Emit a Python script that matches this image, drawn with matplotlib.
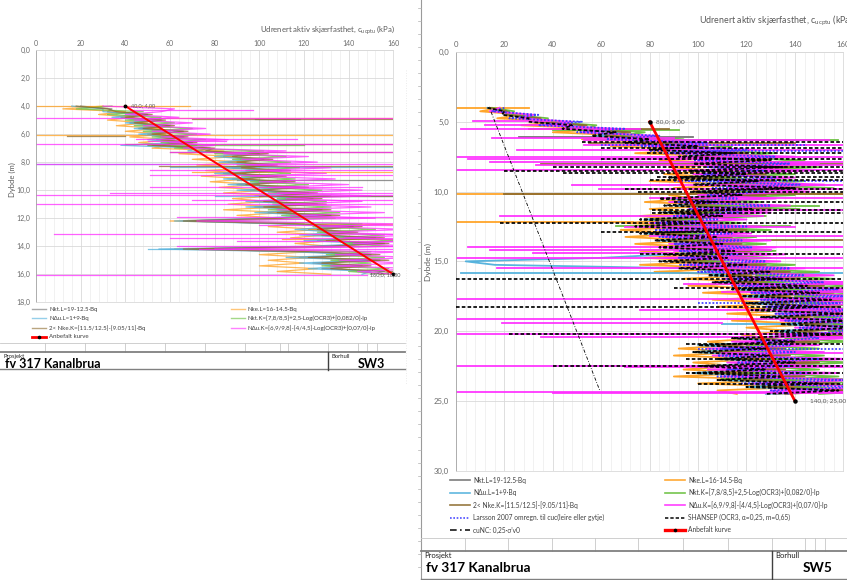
import numpy as np
import matplotlib
matplotlib.use("Agg")
import matplotlib.pyplot as plt
from matplotlib.ticker import MultipleLocator, FuncFormatter

plt.rcParams['font.family'] = ['Lato', 'DejaVu Sans']
plt.rcParams['mathtext.fontset'] = 'custom'
plt.rcParams['mathtext.rm'] = 'Lato'
plt.rcParams['mathtext.it'] = 'Lato'

W, H = 847, 580

# ---------------- SW3: cu from CPTU, 0.2 m sampling ----------------
sw3_depth = np.round(np.arange(4.0, 16.001, 0.2), 2)
sw3_nkt_l = [20, 34, 32, 50, 38, 56, 42, 60, 46, 66,
             50, 66, 54, 70, 50, 78, 72, 100, 84, 102,
             86, 104, 88, 110, 84, 108, 88, 112, 90, 118,
             96, 122, 104, 124, 98, 126, 98, 128, 104, 132,
             106, 66, 112, 142, 122, 140, 124, 152, 126, 156,
             128, 70, 120, 150, 118, 154, 124, 146, 128, 156, 150]
sw3_nke_l = [30, 12, 40, 28, 44, 32, 50, 36, 56, 40,
             58, 42, 62, 46, 60, 52, 84, 64, 90, 70,
             94, 72, 98, 76, 94, 74, 96, 78, 100, 82,
             104, 84, 110, 88, 104, 86, 110, 84, 112, 90,
             110, 60, 120, 104, 128, 108, 130, 114, 134, 116,
             132, 62, 122, 100, 124, 104, 120, 100, 126, 108, 132]
sw3_ndu_l = [16, 30, 30, 46, 34, 50, 40, 56, 44, 60,
             46, 60, 50, 64, 38, 72, 68, 94, 80, 96,
             82, 100, 84, 104, 80, 102, 84, 106, 86, 112,
             90, 116, 98, 118, 94, 120, 94, 122, 98, 126,
             100, 62, 108, 136, 116, 134, 118, 146, 120, 150,
             122, 55, 116, 144, 112, 148, 118, 140, 122, 150, 146]
sw3_nkt_k = [34, 18, 48, 32, 56, 40, 62, 44, 70, 48,
             72, 52, 76, 56, 72, 62, 102, 80, 112, 88,
             114, 90, 118, 94, 114, 92, 116, 96, 122, 100,
             128, 104, 132, 108, 130, 106, 132, 104, 136, 110,
             134, 72, 146, 124, 152, 126, 156, 134, 160, 138,
             158, 74, 150, 130, 156, 132, 150, 128, 158, 140, 158]
sw3_nke_k = [18, 32, 36, 52, 40, 58, 44, 62, 48, 68,
             52, 68, 56, 72, 52, 80, 76, 104, 88, 106,
             90, 108, 92, 114, 88, 112, 92, 116, 94, 122,
             100, 126, 108, 128, 102, 130, 102, 132, 108, 136,
             110, 66, 116, 146, 126, 144, 128, 156, 130, 158,
             132, 66, 126, 154, 122, 158, 128, 150, 132, 160, 154]
sw3_ndu_k = [30, 62, 56, 40, 64, 44, 70, 48, 76, 52,
             78, 56, 86, 60, 80, 66, 112, 84, 122, 92,
             126, 94, 132, 98, 130, 96, 134, 100, 140, 104,
             146, 108, 150, 112, 146, 110, 150, 108, 156, 114,
             152, 72, 162, 128, 166, 130, 170, 138, 172, 142,
             170, 80, 164, 134, 170, 136, 166, 132, 172, 144, 160]
# thin layers: (depth, cu from, cu to, series)
sw3_spikes = [
    (4.03, 0, 69, 'nke_l'), (4.25, 42, 97, 'ndu_k'), (4.85, 55, 170, 'nke_l'),
    (4.88, 0, 170, 'ndu_k'), (4.92, 70, 170, 'nke_k'), (4.90, 98, 118, 'nkt_l'),
    (6.07, 0, 170, 'nke_l'), (6.10, 14, 40, 'nke_k'), (6.35, 45, 117, 'ndu_k'),
    (6.50, 50, 85, 'ndu_k'), (6.72, 0, 170, 'ndu_k'), (6.75, 50, 120, 'nkt_k'),
    (6.70, 40, 170, 'nke_k'), (7.26, 60, 170, 'ndu_k'), (7.30, 60, 170, 'nke_k'),
    (8.10, 0, 170, 'ndu_k'), (8.12, 0, 60, 'ndu_l'), (8.30, 55, 170, 'nke_k'),
    (8.35, 60, 170, 'ndu_l'), (8.55, 51, 170, 'ndu_k'), (8.70, 70, 170, 'nke_l'),
    (8.90, 51, 170, 'ndu_k'), (9.30, 90, 170, 'nkt_l'), (9.76, 51, 146, 'ndu_k'),
    (10.19, 33, 160, 'ndu_k'), (10.38, 0, 170, 'ndu_k'), (10.42, 80, 170, 'ndu_l'),
    (10.45, 100, 170, 'nke_k'), (10.70, 70, 170, 'ndu_k'), (10.98, 0, 170, 'ndu_k'),
    (11.90, 63, 170, 'ndu_k'), (12.40, 120, 170, 'nke_l'), (12.45, 100, 170, 'ndu_k'),
    (13.15, 8, 170, 'ndu_k'), (13.40, 60, 170, 'ndu_k'), (13.50, 110, 170, 'nke_l'),
    (13.65, 90, 170, 'ndu_k'), (13.95, 63, 170, 'ndu_k'), (14.17, 73, 170, 'ndu_k'),
    (14.17, 50, 73, 'ndu_l'), (16.07, 0, 148, 'ndu_k'),
]
sw3_rec_depth = [4.0, 16.0]
sw3_rec = [40.0, 160.0]

# ---------------- SW5: cu from CPTU, 0.25 m sampling ----------------
sw5_depth = np.round(np.arange(4.0, 24.501, 0.25), 2)
sw5_nkt_l = [14, 22, 20, 34, 32, 52, 48, 70, 60, 84,
             74, 102, 84, 118, 96, 128, 102, 134, 100, 124,
             92, 128, 104, 138, 102, 124, 90, 112, 92, 126,
             88, 114, 80, 104, 78, 116, 80, 110, 86, 114,
             88, 118, 90, 116, 88, 124, 96, 134, 108, 138,
             110, 148, 118, 152, 122, 156, 124, 154, 128, 162,
             130, 166, 138, 170, 136, 160, 118, 146, 104, 132,
             102, 134, 112, 146, 106, 132, 102, 140, 114, 154,
             124, 160, 132]
sw5_nke_l = [18, 10, 28, 17, 44, 27, 60, 40, 72, 52,
             90, 64, 102, 74, 112, 84, 118, 88, 108, 86,
             112, 80, 120, 90, 108, 88, 98, 78, 110, 80,
             100, 76, 92, 70, 102, 68, 96, 70, 100, 74,
             104, 76, 100, 78, 108, 76, 118, 82, 122, 94,
             130, 96, 134, 102, 138, 106, 136, 108, 142, 112,
             146, 114, 150, 120, 140, 118, 128, 104, 116, 92,
             118, 90, 128, 98, 116, 94, 122, 90, 136, 100,
             142, 108, 116]
sw5_ndu_l = [13, 20, 21, 32, 33, 50, 46, 68, 58, 80,
             72, 98, 82, 112, 94, 122, 100, 130, 98, 118,
             90, 124, 100, 134, 100, 120, 88, 108, 90, 120,
             86, 110, 78, 102, 76, 112, 78, 106, 84, 108,
             86, 112, 88, 60, 4, 16, 96, 112, 106, 132,
             108, 142, 114, 146, 118, 150, 120, 148, 124, 156,
             126, 160, 134, 164, 132, 154, 114, 140, 100, 126,
             98, 128, 108, 140, 102, 126, 98, 134, 110, 148,
             120, 154, 128]
sw5_nkt_k = [15, 24, 23, 38, 37, 58, 54, 78, 68, 94,
             84, 114, 96, 132, 108, 144, 116, 150, 114, 140,
             104, 144, 118, 156, 116, 140, 102, 126, 104, 142,
             100, 128, 92, 118, 90, 130, 92, 124, 98, 128,
             100, 132, 102, 130, 100, 140, 110, 150, 124, 156,
             126, 166, 134, 170, 140, 174, 142, 172, 146, 178,
             148, 182, 156, 186, 154, 178, 136, 164, 120, 150,
             118, 152, 128, 164, 122, 150, 118, 158, 130, 172,
             140, 178, 150]
sw5_nke_k = [14, 21, 21, 35, 34, 54, 50, 72, 62, 86,
             76, 104, 86, 120, 98, 130, 104, 138, 102, 128,
             94, 132, 106, 142, 104, 128, 92, 116, 94, 130,
             90, 118, 82, 108, 80, 120, 82, 114, 88, 118,
             90, 122, 92, 120, 90, 128, 98, 138, 112, 142,
             114, 152, 122, 156, 126, 160, 128, 158, 132, 166,
             134, 170, 142, 174, 140, 164, 122, 150, 108, 136,
             106, 138, 116, 150, 110, 136, 106, 144, 118, 158,
             128, 164, 136]
sw5_ndu_k = [18, 14, 32, 26, 48, 36, 66, 52, 82, 64,
             104, 80, 124, 90, 140, 100, 150, 104, 146, 98,
             140, 108, 152, 112, 146, 100, 132, 88, 138, 96,
             130, 90, 120, 80, 126, 84, 122, 86, 130, 88,
             132, 90, 136, 86, 134, 94, 144, 104, 156, 110,
             164, 118, 168, 122, 174, 126, 176, 128, 178, 132,
             182, 134, 186, 140, 180, 132, 166, 114, 150, 104,
             152, 106, 164, 112, 150, 104, 158, 110, 168, 122,
             178, 130, 184]
sw5_larsson = [20, 15, 34, 22, 52, 34, 70, 50, 84, 62,
               104, 76, 120, 86, 132, 98, 138, 104, 128, 102,
               132, 96, 142, 106, 128, 104, 116, 92, 130, 96,
               118, 90, 108, 82, 120, 82, 114, 84, 118, 90,
               122, 92, 118, 92, 128, 92, 138, 100, 144, 112,
               152, 114, 158, 122, 160, 126, 158, 128, 166, 132,
               170, 136, 176, 142, 166, 140, 150, 124, 138, 110,
               140, 108, 150, 116, 138, 112, 146, 108, 160, 118,
               166, 130, 138]
sw5_shansep = [13, 20, 19, 30, 30, 48, 44, 66, 56, 80,
               70, 100, 80, 115, 92, 130, 98, 135, 96, 120,
               88, 125, 98, 140, 98, 118, 84, 108, 86, 122,
               84, 110, 76, 100, 74, 112, 76, 108, 82, 110,
               84, 115, 86, 112, 84, 120, 92, 130, 104, 135,
               106, 145, 114, 150, 118, 155, 120, 150, 122, 160,
               126, 162, 134, 168, 130, 155, 114, 140, 100, 128,
               98, 130, 108, 140, 100, 128, 98, 135, 108, 150,
               120, 158, 128]
sw5_spikes = [
    (4.02, 0, 30, 'nke_l'), (4.95, 7, 39, 'ndu_k'), (5.23, 12, 48, 'ndu_k'),
    (5.54, 2, 76, 'ndu_k'), (5.54, 30, 88, 'nke_k'), (5.60, 40, 92, 'nkt_k'),
    (6.07, 26, 98, 'nkt_l'), (6.19, 15, 90, 'ndu_k'), (6.30, 53, 154, 'ndu_k'),
    (6.30, 60, 158, 'nkt_k'), (6.43, 52, 170, 'shansep'), (6.55, 55, 140, 'nke_k'),
    (6.67, 53, 170, 'ndu_k'), (6.67, 60, 145, 'larsson'), (6.85, 60, 170, 'shansep'),
    (7.03, 25, 170, 'ndu_k'), (7.12, 80, 170, 'larsson'), (7.25, 79, 170, 'shansep'),
    (7.50, 0, 170, 'ndu_k'), (7.70, 5, 110, 'ndu_k'), (7.70, 60, 170, 'shansep'),
    (7.86, 14, 170, 'ndu_k'), (8.05, 35, 170, 'nke_k'), (8.10, 33, 170, 'ndu_k'),
    (8.22, 40, 170, 'shansep'), (8.46, 0, 170, 'ndu_k'), (8.50, 20, 170, 'shansep'),
    (8.70, 44, 170, 'shansep'), (8.95, 83, 170, 'shansep'), (9.20, 80, 170, 'shansep'),
    (9.25, 90, 170, 'larsson'), (9.53, 48, 170, 'ndu_k'), (9.80, 59, 170, 'ndu_k'),
    (9.85, 70, 170, 'shansep'), (10.00, 75, 170, 'shansep'), (10.17, 0, 170, 'nke_l'),
    (10.20, 20, 170, 'nke_k'), (10.45, 80, 170, 'ndu_k'), (10.75, 90, 170, 'shansep'),
    (11.00, 100, 150, 'nkt_k'), (11.30, 81, 170, 'shansep'), (11.35, 100, 170, 'ndu_k'),
    (11.55, 81, 170, 'shansep'), (11.76, 18, 127, 'ndu_k'), (12.20, 0, 73, 'nke_l'),
    (12.24, 18, 170, 'shansep'), (12.50, 66, 138, 'nkt_k'), (12.55, 70, 140, 'ndu_k'),
    (12.88, 60, 170, 'shansep'), (13.20, 80, 170, 'ndu_k'), (13.50, 100, 170, 'nke_k'),
    (14.00, 5, 170, 'ndu_k'), (14.20, 14, 130, 'ndu_k'), (14.43, 32, 90, 'ndu_k'),
    (14.45, 76, 170, 'shansep'), (14.79, 0, 170, 'ndu_k'), (15.45, 17, 170, 'ndu_k'),
    (15.82, 2, 170, 'ndu_l'), (16.30, 0, 170, 'shansep'), (16.60, 94, 170, 'ndu_k'),
    (16.90, 90, 170, 'shansep'), (17.20, 110, 170, 'ndu_k'), (17.73, 0, 170, 'ndu_k'),
    (18.00, 100, 170, 'larsson'), (18.30, 0, 170, 'shansep'), (18.50, 76, 170, 'ndu_k'),
    (19.15, 0, 170, 'ndu_k'), (19.45, 19, 110, 'ndu_k'), (19.50, 110, 170, 'ndu_l'),
    (20.17, 0, 170, 'ndu_k'), (20.20, 22, 170, 'shansep'), (20.45, 35, 170, 'ndu_k'),
    (20.90, 95, 170, 'shansep'), (21.30, 100, 170, 'larsson'), (21.60, 110, 170, 'ndu_k'),
    (22.00, 95, 170, 'shansep'), (22.48, 0, 170, 'ndu_k'), (22.52, 40, 170, 'shansep'),
    (22.55, 70, 170, 'ndu_k'), (23.00, 95, 170, 'shansep'), (23.40, 110, 170, 'nkt_k'),
    (23.80, 100, 170, 'shansep'), (24.35, 0, 170, 'ndu_k'), (24.40, 40, 170, 'ndu_k'),
]
sw5_cunc_depth = [4.3, 24.3]
sw5_cunc = [14.5, 59.5]
sw5_rec_depth = [5.0, 25.0]
sw5_rec = [80.0, 140.0]

# colour, linestyle, legend text
STYLE = {
    'nkt_l': ('#6e6e6e', '-', 'Nkt.L=19-12.5·Bq'),
    'nke_l': ('#ffa01e', '-', 'Nke.L=16-14.5·Bq'),
    'ndu_l': ('#4fb0dc', '-', 'NΔu.L=1+9·Bq'),
    'nkt_k': ('#66bf3a', '-', 'Nkt.K=[7,8/8,5]+2,5·Log(OCR3)+[0,082/0]·Ip'),
    'nke_k': ('#8c6a2c', '-', '2< Nke.K=[11.5/12.5]-[9.05/11]·Bq'),
    'ndu_k': ('#ff2cff', '-', 'NΔu.K=[6,9/9,8]-[4/4,5]·Log(OCR3)+[0,07/0]·Ip'),
    'larsson': ('#3a3aff', (0, (1, 1)), 'Larsson 2007 omregn. til cuc(leire eller gytje)'),
    'shansep': ('#000000', (0, (2, 1.2)), "SHANSEP (OCR3, α=0,25, m=0,65)"),
    'cunc': ('#000000', (0, (4, 2, 1, 2)), "cuNC: 0,25·σ'v0"),
}
ORDER = ['nkt_l', 'nke_l', 'ndu_l', 'nkt_k', 'nke_k', 'ndu_k', 'larsson', 'shansep']

sw3_series = {'nkt_l': sw3_nkt_l, 'nke_l': sw3_nke_l, 'ndu_l': sw3_ndu_l,
              'nkt_k': sw3_nkt_k, 'nke_k': sw3_nke_k, 'ndu_k': sw3_ndu_k}
sw5_series = {'nkt_l': sw5_nkt_l, 'nke_l': sw5_nke_l, 'ndu_l': sw5_ndu_l,
              'nkt_k': sw5_nkt_k, 'nke_k': sw5_nke_k, 'ndu_k': sw5_ndu_k,
              'larsson': sw5_larsson, 'shansep': sw5_shansep}


def fmt_comma(v, pos=None):
    return f"{v:.1f}".replace('.', ',')


def px_axes(fig, x0, y0, x1, y1):
    return fig.add_axes([x0 / W, 1 - y1 / H, (x1 - x0) / W, (y1 - y0) / H])


def style_axis(ax, ymax, ystep, fs, xpad, ypad):
    ax.set_xlim(0, 160)
    ax.set_ylim(ymax, 0)
    ax.xaxis.tick_top()
    ax.xaxis.set_major_locator(MultipleLocator(20))
    ax.xaxis.set_minor_locator(MultipleLocator(4))
    ax.yaxis.set_major_locator(MultipleLocator(ystep))
    ax.yaxis.set_major_formatter(FuncFormatter(fmt_comma))
    ax.tick_params(which='both', length=0, labelsize=fs, colors='#6a6a6a')
    ax.tick_params(axis='x', pad=xpad)
    ax.tick_params(axis='y', pad=ypad)
    ax.grid(which='major', color='#d9d9d9', lw=0.6)
    ax.grid(which='minor', axis='x', color='#ececec', lw=0.5)
    ax.set_axisbelow(True)
    for s in ax.spines.values():
        s.set_color('#d9d9d9')
        s.set_linewidth(0.6)
    ax.spines['left'].set_color('#a6a6a6')


def draw_profile(ax, depth, series, spikes, lw, alpha):
    for i, key in enumerate(ORDER):
        if key not in series:
            continue
        color, ls, _ = STYLE[key]
        z = 2 + i * 0.1
        ax.plot(series[key], depth, color=color, ls=ls, lw=lw, alpha=alpha, zorder=z)
        for d, x0, x1, k in spikes:
            if k == key:
                ax.plot([x0, x1], [d, d], color=color, ls=ls, lw=lw, alpha=alpha, zorder=z)


def draw_rec(ax, vals, depth, lw, ms, fs, offsets):
    ax.plot(vals, depth, color='#ff0000', lw=lw, zorder=10)
    ax.plot(vals, depth, ls='none', marker='o', ms=ms, color='black', zorder=11, clip_on=False)
    for v, d, (dx, ha) in zip(vals, depth, offsets):
        ax.annotate(f"{v:.1f}; {d:.2f}".replace('.', ','), (v, d), xytext=(dx, 0),
                    textcoords='offset points', ha=ha, va='center', fontsize=fs,
                    color='#595959', annotation_clip=False, zorder=12)


def draw_legend(ax0, rows, cols, handle_len, fs, alpha, lw):
    # rows: y positions; cols: (x of handle, series keys top to bottom)
    for x, keys in cols:
        for y, key in zip(rows, keys):
            if key == 'rec':
                ax0.plot([x, x + handle_len], [y, y], color='#ff0000', lw=lw * 2)
                ax0.plot([x + handle_len / 2], [y], marker='o', ms=1.6, color='black')
                label = 'Anbefalt kurve'
            else:
                color, ls, label = STYLE[key]
                ax0.plot([x, x + handle_len], [y, y], color=color, ls=ls, lw=lw, alpha=alpha)
            ax0.text(x + handle_len + 3, y, label, fontsize=fs, color='#404040', va='center')


def draw_title_block(ax0, x0, x1, y_top, y_mid, y_bot, ticks, x_div, fs_small, fs_big,
                     name, hole, x_hole):
    ax0.plot([x0, x1], [y_top, y_top], color='#c8c8c8', lw=0.6)
    for x in ticks:
        ax0.plot([x, x], [y_top, y_mid], color='#c8c8c8', lw=0.6)
    ax0.plot([x0, x1], [y_mid, y_mid], color='#808080', lw=1.3)
    ax0.plot([x0, x1], [y_bot, y_bot], color='#808080', lw=1.0)
    ax0.plot([x_div, x_div], [y_mid, y_bot + 1], color='#404040', lw=1.0)
    ax0.text(x0 + 3, y_mid + 4.5, 'Prosjekt', fontsize=fs_small, va='center', color='#202020')
    ax0.text(x_div + 3, y_mid + 4.5, 'Borhull', fontsize=fs_small, va='center', color='#202020')
    ax0.text(x0 + 5, (y_mid + y_bot) / 2 + 3, name, fontsize=fs_big, fontweight='bold',
             va='center', color='black')
    ax0.text(x_hole, (y_mid + y_bot) / 2 + 3, hole, fontsize=fs_big, fontweight='bold',
             va='center', ha='left', color='black')


fig = plt.figure(figsize=(W / 100, H / 100), dpi=100)
fig.patch.set_facecolor('white')
ax0 = fig.add_axes([0, 0, 1, 1])
ax0.set_xlim(0, W)
ax0.set_ylim(H, 0)
ax0.axis('off')

# ---- left sheet (SW3) ----
ax1 = px_axes(fig, 36, 50, 393.3, 302.3)
style_axis(ax1, 18, 2, 5.0, 2.5, 4)
draw_profile(ax1, sw3_depth, sw3_series, sw3_spikes, lw=0.9, alpha=0.75)
draw_rec(ax1, sw3_rec, sw3_rec_depth, lw=1.4, ms=1.8, fs=4.0, offsets=[(4, 'left'), (-6, 'center')])
ax0.text(260, 30, r'Udrenert aktiv skjærfasthet, c$_{\mathrm{ucptu}}$ (kPa)', fontsize=5.6,
         color='#595959', va='center')
ax0.text(12, 180, 'Dybde (m)', fontsize=5.5, rotation=90, va='center', ha='center', color='#595959')
draw_legend(ax0, [309, 318.3, 327.7, 337], [(32, ['nkt_l', 'ndu_l', 'nke_k', 'rec']),
                                              (231, ['nke_l', 'nkt_k', 'ndu_k'])],
            14, 4.4, 0.6, 1.0)
draw_title_block(ax0, 0, 405, 343, 352, 369,
                 [45, 85, 125, 165, 205, 245, 280, 288, 328, 358, 367, 377], 328,
                 4.2, 9.0, 'fv 317 Kanalbrua', 'SW3', 358)
ax0.plot([406, 406], [70, 385], color='#e4e4e4', lw=0.6, ls=(0, (1, 2)))

# ---- right sheet (SW5) ----
ax0.plot([421, 421], [0, H], color='#9a9a9a', lw=0.8)
for yt in range(8, H, 13):
    ax0.plot([418, 421], [yt, yt], color='#b0b0b0', lw=0.5)

ax2 = px_axes(fig, 456, 52, 843.3, 470.7)
style_axis(ax2, 30, 5, 5.6, 3.0, 5)
draw_profile(ax2, sw5_depth, sw5_series, sw5_spikes, lw=1.3, alpha=0.95)
color, ls, _ = STYLE['cunc']
ax2.plot(sw5_cunc, sw5_cunc_depth, color=color, ls=ls, lw=0.6, zorder=3)
draw_rec(ax2, sw5_rec, sw5_rec_depth, lw=2.0, ms=2.2, fs=4.6, offsets=[(4.5, 'left'), (11, 'left')])
ax0.text(699, 21, r'Udrenert aktiv skjærfasthet, c$_{\mathrm{ucptu}}$ (kPa)', fontsize=6.4,
         color='#595959', va='center')
ax0.text(428, 262, 'Dybde (m)', fontsize=6.0, rotation=90, va='center', ha='center', color='#595959')
draw_legend(ax0, [480, 492.5, 505, 517.5, 530],
            [(450, ['nkt_l', 'ndu_l', 'nke_k', 'larsson', 'cunc']),
             (665, ['nke_l', 'nkt_k', 'ndu_k', 'shansep', 'rec'])],
            20, 4.8, 0.9, 1.2)
draw_title_block(ax0, 421, W, 538, 551, 579,
                 [465, 508, 552, 595, 638, 683, 728, 772, 805, 815, 825], 772,
                 5.5, 9.8, 'fv 317 Kanalbrua', 'SW5', 803)

fig.savefig('out.png', dpi=100, facecolor='white')
